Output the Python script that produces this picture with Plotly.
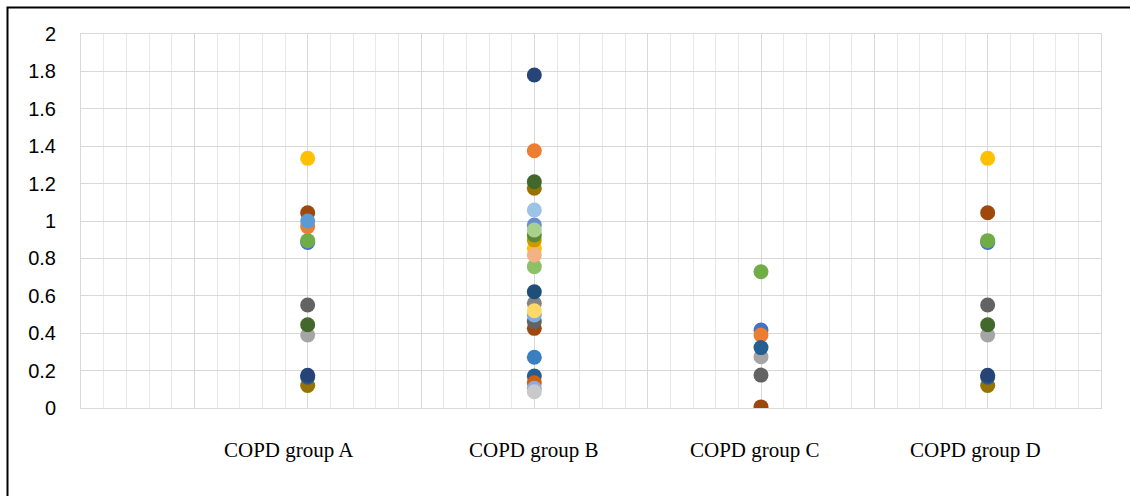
import plotly.graph_objects as go

# ---------------- data ----------------
categories = ["COPD group A", "COPD group B", "COPD group C", "COPD group D"]
cat_x = [1, 2, 3, 4]

y_ticks = [0, 0.2, 0.4, 0.6, 0.8, 1, 1.2, 1.4, 1.6, 1.8, 2]
y_tick_labels = ["0", "0.2", "0.4", "0.6", "0.8", "1", "1.2", "1.4", "1.6", "1.8", "2"]

# values per series for groups A, B, C, D (None = no point)
s01 = [0.885, None, 0.417, 0.885]
s02 = [0.97, 1.376, 0.39, None]
s03 = [0.39, None, 0.274, 0.39]
s04 = [1.335, 0.854, None, 1.335]
s06 = [0.895, None, 0.729, 0.895]
s07 = [0.175, 1.781, None, 0.175]
s08 = [1.044, 0.426, 0.006, 1.044]
s05 = [1.0, None, None, None]
s09 = [0.551, 0.462, 0.176, 0.551]
s10 = [0.12, 1.175, None, 0.12]
s11 = [0.165, 0.171, 0.323, 0.165]
s12 = [0.445, 1.21, None, 0.445]
s13 = [None, 0.979, None, None]
s17 = [None, 0.497, None, None]
s18 = [None, 0.756, None, None]
s20 = [None, 0.135, None, None]
s21 = [None, 0.56, None, None]
s22 = [None, 0.898, None, None]
s23 = [None, 0.271, None, None]
s24 = [None, 0.925, None, None]
s25 = [None, 0.105, None, None]
s26 = [None, 0.818, None, None]
s27 = [None, 0.087, None, None]
s28 = [None, 0.52, None, None]
s29 = [None, 1.059, None, None]
s30 = [None, 0.952, None, None]
s31 = [None, 0.622, None, None]

series = [s01, s02, s03, s04, s06, s08, s05, s09, s10, s11, s07, s12, s13,
          s17, s18, s20, s21, s22, s23, s24, s25, s26, s27, s28, s29, s30, s31]
colors = ["#4472C4", "#ED7D31", "#A5A5A5", "#FFC000", "#70AD47",
          "#9E480E", "#5B9BD5", "#636363", "#997300", "#255E91", "#264478", "#43682B",
          "#698ED0", "#7CAFDD", "#8CC168", "#D26012", "#848484", "#CC9A00",
          "#3A7FC2", "#5A8A39", "#8FAADC", "#F4B183", "#C9C9C9", "#FFD966",
          "#9DC3E6", "#A9D18E", "#1F4E79"]

# ---------------- figure ----------------
fig = go.Figure()
for vals, col in zip(series, colors):
    fig.add_trace(go.Scatter(
        x=cat_x, y=vals, mode="markers",
        marker=dict(size=15, color=col, line=dict(width=0)),
        showlegend=False, hoverinfo="y"))

W, H = 1130, 496
L, R, T, B = 81, 29, 34, 88
pw, ph = W - L - R, H - T - B

def px_x(p):
    return (p - L) / pw

def px_y(p):
    return (H - B - p) / ph

label_shift = [-19, 0, -6, -12]
for cx, name, sh in zip(cat_x, categories, label_shift):
    fig.add_annotation(x=cx, xref="x", y=px_y(450), yref="paper",
                       text=name, showarrow=False, xshift=sh,
                       font=dict(family="Liberation Serif", size=21, color="#000000"),
                       xanchor="center", yanchor="middle")

# outer chart border (only top & left visible in the frame)
fig.add_shape(type="rect", xref="paper", yref="paper",
              x0=px_x(7.5), x1=px_x(1140), y0=px_y(510), y1=px_y(7.5),
              line=dict(color="#000000", width=2), fillcolor="rgba(0,0,0,0)",
              layer="below")

fig.update_layout(
    width=W, height=H,
    margin=dict(l=L, r=R, t=T, b=B, autoexpand=False),
    paper_bgcolor="white", plot_bgcolor="white",
    xaxis=dict(range=[0, 4.5], tick0=0, dtick=0.5, showticklabels=False,
               showgrid=True, gridcolor="#D9D9D9", gridwidth=1,
               minor=dict(tick0=0, dtick=0.1, showgrid=True, gridcolor="#E8E8E8", gridwidth=1),
               zeroline=False, showline=True, linecolor="#D9D9D9", linewidth=1, mirror=True,
               fixedrange=True),
    yaxis=dict(range=[0, 2], tickvals=y_ticks, ticktext=y_tick_labels,
               showgrid=True, gridcolor="#D9D9D9", gridwidth=1,
               zeroline=False, showline=True, linecolor="#D9D9D9", linewidth=1, mirror=True,
               ticks="", ticklabelstandoff=20,
               tickfont=dict(family="Liberation Sans", size=20, color="#000000"),
               fixedrange=True),
)

fig.write_html("out.html", config={"displayModeBar": False},
               post_script="document.body.style.margin='0';document.body.style.overflow='hidden';")
